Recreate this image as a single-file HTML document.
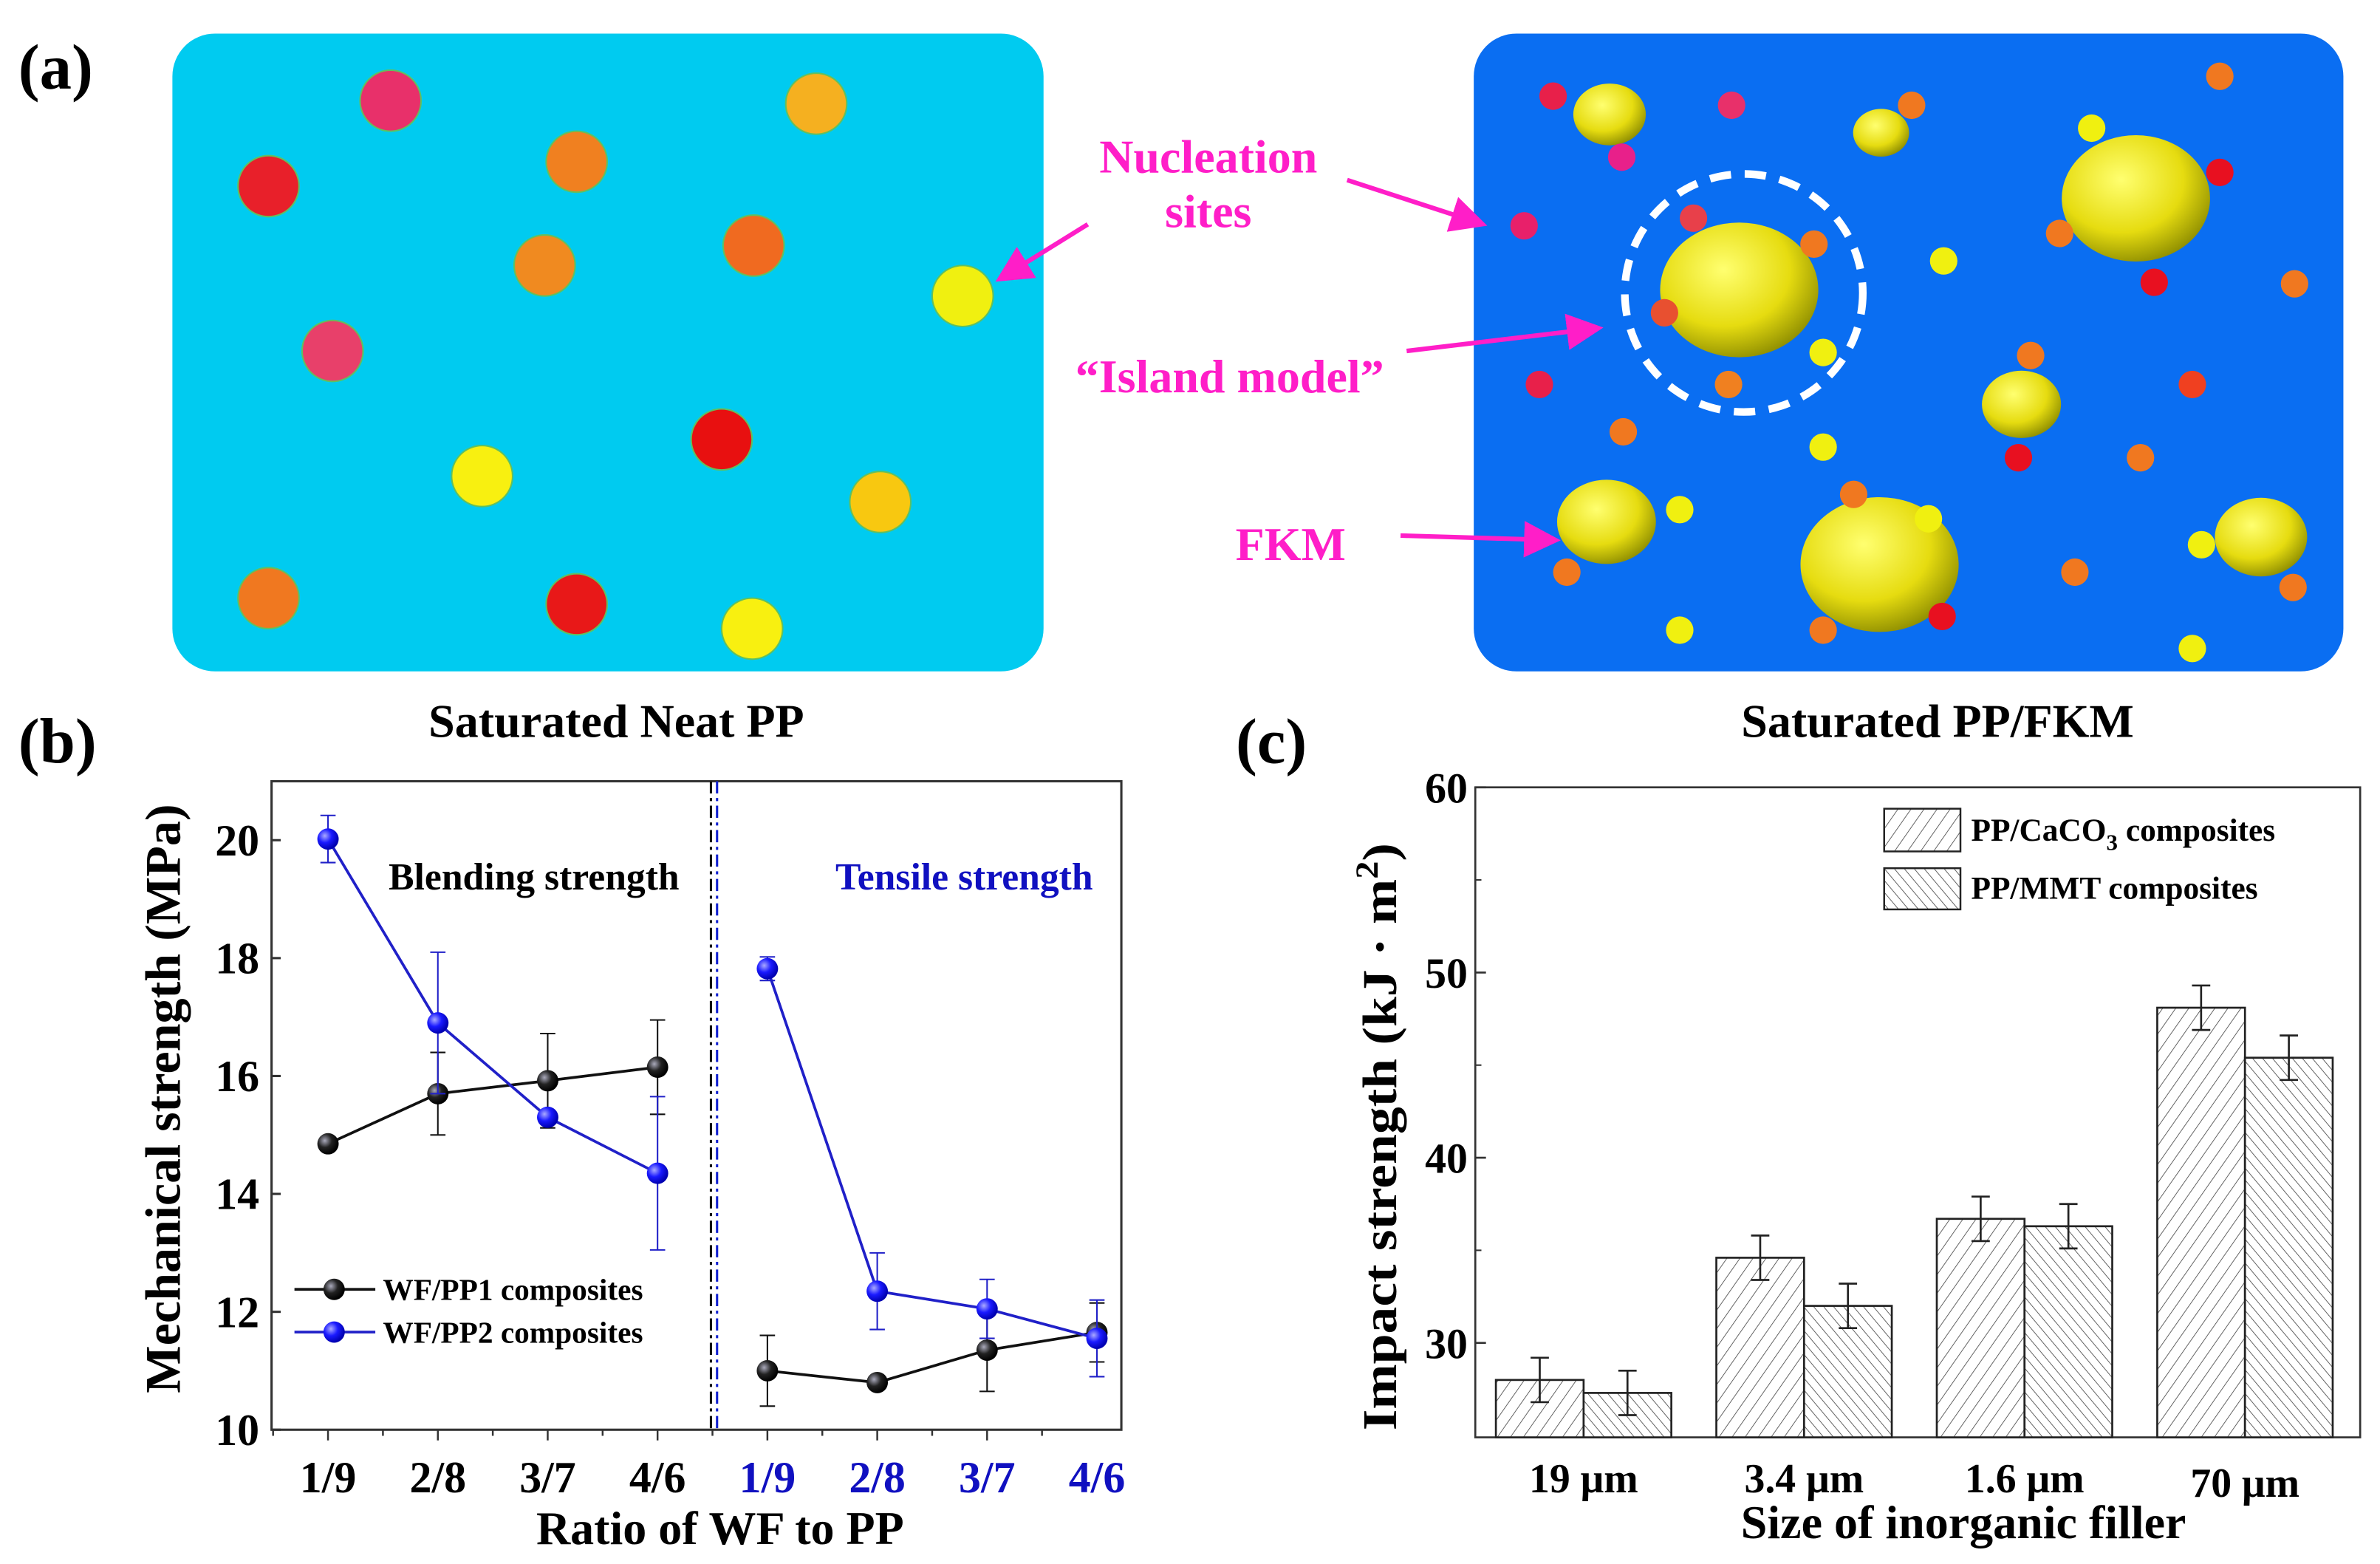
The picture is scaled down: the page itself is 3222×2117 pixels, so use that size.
<!DOCTYPE html>
<html><head><meta charset="utf-8"><style>
html,body{margin:0;padding:0;background:#fff}
svg{display:block;font-family:"Liberation Serif",serif;font-weight:bold}
</style></head><body>
<svg id="fig" width="3222" height="2117" viewBox="0 0 1560 1025" preserveAspectRatio="none" xmlns="http://www.w3.org/2000/svg">
<defs>
<radialGradient id="gb" cx="35%" cy="35%" r="65%"><stop offset="0" stop-color="#aab"/><stop offset="0.5" stop-color="#222"/><stop offset="1" stop-color="#000"/></radialGradient>
<radialGradient id="gu" cx="35%" cy="35%" r="65%"><stop offset="0" stop-color="#aaf"/><stop offset="0.5" stop-color="#1a1aff"/><stop offset="1" stop-color="#0000b0"/></radialGradient>
<radialGradient id="gy" cx="40%" cy="35%" r="70%"><stop offset="0" stop-color="#ffff70"/><stop offset="0.6" stop-color="#e6dc10"/><stop offset="1" stop-color="#8a8a00"/></radialGradient>
<pattern id="h1" width="7" height="7" patternUnits="userSpaceOnUse" patternTransform="rotate(35)"><rect width="7" height="7" fill="#fff"/><line x1="0" y1="0" x2="0" y2="7" stroke="#444" stroke-width="0.8"/></pattern>
<pattern id="h2" width="5" height="5" patternUnits="userSpaceOnUse" patternTransform="rotate(-40)"><rect width="5" height="5" fill="#fff"/><line x1="0" y1="0" x2="0" y2="5" stroke="#444" stroke-width="0.8"/></pattern>
<marker id="ar" markerWidth="8" markerHeight="8" refX="7" refY="4" orient="auto"><path d="M0,0 L8,4 L0,8 z" fill="#ff1ec8"/></marker>
</defs>
<g id="pa"></g>
<g id="pb"></g>
<g id="pc"></g>
</svg>
<script>
const NS='http://www.w3.org/2000/svg';
function mk(parent,tag,attrs,text){const e=document.createElementNS(NS,tag);for(const k in attrs)e.setAttribute(k,attrs[k]);if(text!==undefined)e.textContent=text;parent.appendChild(e);return e;}

/* ===== Panel (a) schematic ===== */
const pa=document.getElementById('pa');
let t=mk(pa,'text',{x:12,y:58,'font-size':42},'(a)');


let r=mk(pa,'rect',{x:113,y:22,width:571,height:418,rx:28,fill:'#00cbf0'});


const leftDots=[[256,66,'#e8306a'],[535,68,'#f5b020'],[176,122,'#e8202a'],[378,106,'#f08020'],[357,174,'#f08a20'],[494,161,'#f06a20'],[631,194,'#f0f010'],[218,230,'#e8406a'],[473,288,'#e81010'],[316,312,'#f8f010'],[577,329,'#f8c810'],[176,392,'#f07820'],[378,396,'#e81818'],[493,412,'#f8f010']];
leftDots.forEach(d=>{const c=mk(pa,'circle',{cx:d[0],cy:d[1],r:20,fill:d[2],stroke:'#60c060','stroke-width':1});

});
r=mk(pa,'rect',{x:966,y:22,width:570,height:418,rx:28,fill:'#0a6ef2'});


const blobs=[[1055,75,22],[1233,87,17],[1400,130,45],[1140,190,48],[1325,265,24],[1053,342,30],[1232,370,48],[1482,352,28]];
blobs.forEach(b=>{const e=mk(pa,'ellipse',{cx:b[0],cy:b[1],rx:b[2]*1.08,ry:b[2]*0.92,fill:'url(#gy)'});

});
const rdots=[[1018,63,'#e8204a'],[1063,103,'#e8208a'],[1135,69,'#e8306a'],[1253,69,'#f07820'],[1455,50,'#f07820'],[1371,84,'#f0f010'],[999,148,'#e8206a'],[1110,143,'#e8404a'],[1189,160,'#f07820'],[1350,153,'#f07820'],[1274,171,'#f0f010'],[1412,185,'#e81020'],[1504,186,'#f07820'],[1455,113,'#e81020'],[1091,205,'#e85030'],[1195,231,'#f0f010'],[1009,252,'#e8204a'],[1133,252,'#f08020'],[1331,233,'#f07820'],[1437,252,'#f04020'],[1064,283,'#f07820'],[1195,293,'#f0f010'],[1323,300,'#e81020'],[1403,300,'#f07820'],[1215,324,'#f07820'],[1101,334,'#f0f010'],[1027,375,'#f07820'],[1360,375,'#f07820'],[1443,357,'#f0f010'],[1503,385,'#f07820'],[1101,413,'#f0f010'],[1195,413,'#f07820'],[1273,404,'#e81020'],[1437,425,'#f0f010'],[1264,340,'#f0f010']];
rdots.forEach(d=>{const c=mk(pa,'circle',{cx:d[0],cy:d[1],r:9,fill:d[2]});

});
let ci=mk(pa,'circle',{cx:1143,cy:192,r:78,fill:'none',stroke:'#fff','stroke-width':5,'stroke-dasharray':'14 9'});


const ann=[['Nucleation',792,113],['sites',792,149],['\u201CIsland model\u201D',806,257],['FKM',846,367]];
ann.forEach(a=>{const e=mk(pa,'text',{x:a[1],y:a[2],'text-anchor':'middle','font-size':31,fill:'#ff1ec8'},a[0]);

});
const arrows=[[713,147,655,183],[883,118,972,147],[922,230,1048,215],[918,351,1020,354]];
arrows.forEach(a=>{const l=mk(pa,'line',{x1:a[0],y1:a[1],x2:a[2],y2:a[3],stroke:'#ff1ec8','stroke-width':3,'marker-end':'url(#ar)'});

});
t=mk(pa,'text',{x:404,y:483,'text-anchor':'middle','font-size':31},'Saturated Neat PP');


t=mk(pa,'text',{x:1270,y:483,'text-anchor':'middle','font-size':31},'Saturated PP/FKM');


</script>
<script>
/* ===== Panel (b) line chart ===== */
const bCats=['1/9','2/8','3/7','4/6'];
const bBlendPP1=[14.85,15.7,15.92,16.15];
const bBlendPP2=[20.02,16.9,15.3,14.35];
const bTensPP1=[11.0,10.8,11.35,11.65];
const bTensPP2=[17.82,12.35,12.05,11.55];
const bErrBlendPP1=[0.1,0.7,0.8,0.8];
const bErrBlendPP2=[0.4,1.2,0.1,1.3];
const bErrTensPP1=[0.6,0.1,0.7,0.5];
const bErrTensPP2=[0.2,0.65,0.5,0.65];
const bYTicks=[10,12,14,16,18,20];
(function(){
const g=document.getElementById('pb');
const L=178,R=735,T=512,B=937,ymin=10,ymax=21;
const y=v=>B-(v-ymin)/(ymax-ymin)*(B-T);
const xL=i=>215+i*72, xR=i=>503+i*72;
let t=mk(g,'text',{x:12,y:500,'font-size':42},'(b)');


let f=mk(g,'rect',{x:L,y:T,width:R-L,height:B-T,fill:'none',stroke:'#333','stroke-width':1.5});


bYTicks.forEach(v=>{
 const tk=mk(g,'line',{x1:L,x2:L+6,y1:y(v),y2:y(v),stroke:'#333','stroke-width':1.5});
 
 
 const lb=mk(g,'text',{x:L-8,y:y(v)+10,'text-anchor':'end','font-size':29},String(v));
 
 
});
for(let k=0;k<15;k++){const x0=215-36+k*36;
 if(x0<=L||x0>=R)continue;
 const tk=mk(g,'line',{x1:x0,x2:x0,y1:B,y2:B+(k%2===1?7:4),stroke:'#333','stroke-width':1.2});
 
 }
bCats.forEach((c,i)=>{
 let a=mk(g,'text',{x:xL(i),y:978,'text-anchor':'middle','font-size':29},c);
 
 
 a=mk(g,'text',{x:xR(i),y:978,'text-anchor':'middle','font-size':29,fill:'#1010c0'},c);
 
 
});
let d=mk(g,'line',{x1:466,x2:466,y1:T,y2:B,stroke:'#111','stroke-width':1.5,'stroke-dasharray':'8 3 2 3'});


d=mk(g,'line',{x1:470,x2:470,y1:T,y2:B,stroke:'#1020d0','stroke-width':1.5,'stroke-dasharray':'8 3 2 3'});


function series(vals,errs,xf,col,grad,name){
 const pts=vals.map((v,i)=>xf(i)+','+y(v)).join(' ');
 const pl=mk(g,'polyline',{points:pts,fill:'none',stroke:col,'stroke-width':1.8});
 
 
 vals.forEach((v,i)=>{
  const e=mk(g,'line',{x1:xf(i),x2:xf(i),y1:y(v-errs[i]),y2:y(v+errs[i]),stroke:col,'stroke-width':1});
  
  
  [v-errs[i],v+errs[i]].forEach(w=>{const c=mk(g,'line',{x1:xf(i)-5,x2:xf(i)+5,y1:y(w),y2:y(w),stroke:col,'stroke-width':1});
   
   });
  const m=mk(g,'circle',{cx:xf(i),cy:y(v),r:7,fill:'url(#'+grad+')'});
  
  
 });
}
series(bBlendPP1,bErrBlendPP1,xL,'#111','gb','blending-pp1');
series(bBlendPP2,bErrBlendPP2,xL,'#2020c8','gu','blending-pp2');
series(bTensPP1,bErrTensPP1,xR,'#111','gb','tensile-pp1');
series(bTensPP2,bErrTensPP2,xR,'#2020c8','gu','tensile-pp2');
t=mk(g,'text',{x:350,y:583,'text-anchor':'middle','font-size':25},'Blending strength');


t=mk(g,'text',{x:632,y:583,'text-anchor':'middle','font-size':25,fill:'#1010c0'},'Tensile strength');


[['WF/PP1 composites','#111','gb',845],['WF/PP2 composites','#2020c8','gu',873]].forEach(le=>{
 const ln=mk(g,'line',{x1:193,x2:246,y1:le[3],y2:le[3],stroke:le[1],'stroke-width':1.8});
 
 
 const c=mk(g,'circle',{cx:219,cy:le[3],r:7,fill:'url(#'+le[2]+')'});
 
 
 const tx=mk(g,'text',{x:251,y:le[3]+7,'font-size':20},le[0]);
 
 
});
t=mk(g,'text',{x:0,y:0,'text-anchor':'middle','font-size':33,transform:'translate(118,720) rotate(-90)'},'Mechanical strength (MPa)');


t=mk(g,'text',{x:472,y:1012,'text-anchor':'middle','font-size':31},'Ratio of WF to PP');


})();
</script>
<script>
/* ===== Panel (c) bar chart ===== */
const cCats=['19 \u03BCm','3.4 \u03BCm','1.6 \u03BCm','70 \u03BCm'];
const cCaCO3=[28.0,34.6,36.7,48.1];
const cMMT=[27.3,32.0,36.3,45.4];
const cErrCaCO3=[1.2,1.2,1.2,1.2];
const cErrMMT=[1.2,1.2,1.2,1.2];
const cYTicks=[30,40,50,60];
(function(){
const g=document.getElementById('pc');
const L=967,R=1547,T=516,B=942,ymin=24.9,ymax=60;
const y=v=>B-(v-ymin)/(ymax-ymin)*(B-T);
const gx=i=>1038+i*144.5, bw=57.5;
let t=mk(g,'text',{x:810,y:500,'font-size':42},'(c)');


let f=mk(g,'rect',{x:L,y:T,width:R-L,height:B-T,fill:'none',stroke:'#333','stroke-width':1.3});


cYTicks.forEach(v=>{
 const tk=mk(g,'line',{x1:L,x2:L+7,y1:y(v),y2:y(v),stroke:'#333','stroke-width':1.3});
 
 
 const lb=mk(g,'text',{x:L-5,y:y(v)+10,'text-anchor':'end','font-size':28},String(v));
 
 
});
[45,55,35].forEach(v=>{const tk=mk(g,'line',{x1:L,x2:L+4,y1:y(v),y2:y(v),stroke:'#333','stroke-width':1});
 
 });
function bars(vals,errs,off,pat,name){
 vals.forEach((v,i)=>{
  const x0=gx(i)+off;
  const b=mk(g,'rect',{x:x0,y:y(v),width:bw,height:B-y(v),fill:'url(#'+pat+')',stroke:'#222','stroke-width':1.3});
  
  
  const cx=x0+bw/2;
  const e=mk(g,'line',{x1:cx,x2:cx,y1:y(v-errs[i]),y2:y(v+errs[i]),stroke:'#222','stroke-width':1.3});
  
  
  [v-errs[i],v+errs[i]].forEach(w=>{const c=mk(g,'line',{x1:cx-6,x2:cx+6,y1:y(w),y2:y(w),stroke:'#222','stroke-width':1.3});
   
   });
 });
}
bars(cCaCO3,cErrCaCO3,-bw,'h1','caco3');
bars(cMMT,cErrMMT,0,'h2','mmt');
cCats.forEach((c,i)=>{
 const lb=mk(g,'text',{x:gx(i),y:978+(i===3?3:0),'text-anchor':'middle','font-size':27},c);
 
 
});
let r1=mk(g,'rect',{x:1235,y:530,width:50,height:28,fill:'url(#h1)',stroke:'#222','stroke-width':1.2});


let l1=mk(g,'text',{x:1292,y:551,'font-size':21});


l1.innerHTML='PP/CaCO<tspan dy="6" font-size="15">3</tspan><tspan dy="-6"> composites</tspan>';
let r2=mk(g,'rect',{x:1235,y:569,width:50,height:27,fill:'url(#h2)',stroke:'#222','stroke-width':1.2});


let l2=mk(g,'text',{x:1292,y:589,'font-size':21},'PP/MMT composites');


t=mk(g,'text',{x:0,y:0,'text-anchor':'middle','font-size':32,textLength:385,lengthAdjust:'spacingAndGlyphs',transform:'translate(915,745) rotate(-90)'});


t.innerHTML='Impact strength (kJ \u00B7 m<tspan dy="-12" font-size="21">2</tspan><tspan dy="12">)</tspan>';
t=mk(g,'text',{x:1287,y:1008,'text-anchor':'middle','font-size':31},'Size of inorganic filler');


})();
</script>
</body></html>
